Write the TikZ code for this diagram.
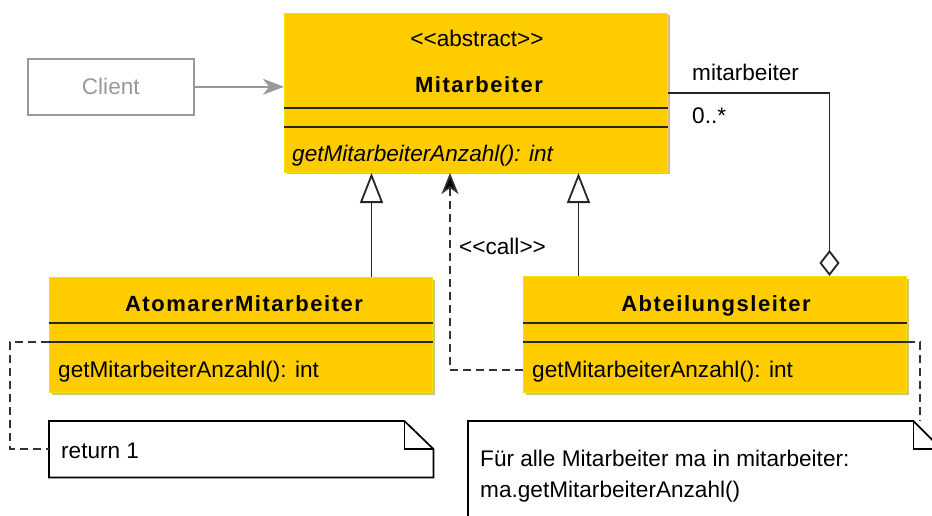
\documentclass[tikz,border=0pt]{standalone}
\usepackage{fontspec}
\setmainfont{Liberation Sans}
\newfontfamily\titlefont[LetterSpace=7]{Liberation Sans Bold}
\usetikzlibrary{arrows.meta,shadows}
\definecolor{umlfill}{HTML}{FFCC00}
\definecolor{umledge}{HTML}{F5E000}
\definecolor{umlshadow}{HTML}{BFA650}
\definecolor{clientgray}{HTML}{999999}
\definecolor{dashgray}{HTML}{333333}
\newcommand\umlfont{\fontsize{22.6}{26}\selectfont}
\begin{document}
\begin{tikzpicture}[x=1pt,y=-1pt,
  classbox/.style={draw=umledge, fill=umlfill, line width=1pt, inner sep=0pt,
    anchor=north west, drop shadow={shadow xshift=2pt, shadow yshift=-2pt,
    fill=umlshadow, opacity=0.7}},
  notebox/.style={inner sep=0pt, anchor=north west},
  notedraw/.style={draw=black, line width=1.7pt, fill=white, line join=miter},
  divider/.style={draw=black!85, line width=1.6pt},
  lbl/.style={inner sep=0pt, font=\umlfont},
  title/.style={inner sep=0pt, font=\titlefont\fontsize{22}{26}\selectfont},
  conn/.style={draw=black!85, line width=1.8pt},
  gen/.style={conn, -{Triangle[open, length=30pt, width=23pt, fill=white]}},
  agg/.style={conn, -{Diamond[open, length=26pt, width=20pt, fill=white]}},
  calldash/.style={draw=dashgray, line width=1.7pt, dash pattern=on 8pt off 5pt},
  callarrow/.style={calldash, -{Stealth[length=21pt, width=17pt, inset=6pt, fill=black]}},
]
\useasboundingbox (0,0) rectangle (932,516);

% ---- class boxes ----
\node[classbox, minimum width=383pt, minimum height=159pt] (mit) at (284,13) {};
\node[classbox, minimum width=383pt, minimum height=115pt] (atom) at (49,277) {};
\node[classbox, minimum width=383pt, minimum height=116pt] (abt) at (523,276) {};

% compartments
\draw[divider] (mit.west |- 0,108) -- (mit.east |- 0,108);
\draw[divider] (mit.west |- 0,127) -- (mit.east |- 0,127);
\draw[divider] (atom.west |- 0,323) -- (atom.east |- 0,323);
\draw[divider] (atom.west |- 0,342) -- (atom.east |- 0,342);
\draw[divider] (abt.west |- 0,323) -- (abt.east |- 0,323);
\draw[divider] (abt.west |- 0,342) -- (abt.east |- 0,342);

% class texts
\node[lbl, anchor=base] (mitstereo) at (477,47) {<{}<abstract>{}>};
\node[title, anchor=base] (mitname) at (479,93) {Mitarbeiter};
\node[lbl, anchor=base west, font=\umlfont\itshape] (mitop) at (292,162) {getMitarbeiterAnzahl(): int};
\node[title, anchor=base] (atomname) at (244,311) {AtomarerMitarbeiter};
\node[lbl, anchor=base west] (atomop) at (58,377) {getMitarbeiterAnzahl(): int};
\node[title, anchor=base] (abtname) at (716,311) {Abteilungsleiter};
\node[lbl, anchor=base west] (abtop) at (532,377) {getMitarbeiterAnzahl(): int};

% ---- client ----
\node[draw=clientgray, line width=1.6pt, text=clientgray, font=\umlfont,
      minimum width=166pt, minimum height=56pt, anchor=north west] (client) at (27,58) {Client};
\draw[draw=clientgray, line width=1.8pt,
      -{Stealth[length=21pt, width=16pt, inset=6pt, fill=clientgray]}]
  (client.east) -- (client.east -| mit.west);

% ---- notes ----
\node[notebox, minimum width=384pt, minimum height=56pt] (note1) at (49,421) {};
\draw[notedraw] (note1.north west) -- ([xshift=-29pt]note1.north east)
  -- ([yshift=-28pt]note1.north east) -- (note1.south east) -- (note1.south west) -- cycle;
\draw[notedraw, fill=none] ([xshift=-29pt]note1.north east) -- ([xshift=-29pt,yshift=-28pt]note1.north east)
  -- ([yshift=-28pt]note1.north east);
\node[lbl, anchor=base west] (note1text) at (61,458) {return 1};

\node[notebox, minimum width=473pt, minimum height=130pt] (note2) at (468,421) {};
\draw[notedraw] (note2.north west) -- ([xshift=-28pt]note2.north east)
  -- ([yshift=-28pt]note2.north east) -- (note2.south east) -- (note2.south west) -- cycle;
\draw[notedraw, fill=none] ([xshift=-28pt]note2.north east) -- ([xshift=-28pt,yshift=-28pt]note2.north east)
  -- ([yshift=-28pt]note2.north east);
\node[lbl, anchor=base west] (note2line1) at (480,466) {Für alle Mitarbeiter ma in mitarbeiter:};
\node[lbl, anchor=base west] (note2line2) at (480,497) {ma.getMitarbeiterAnzahl()};

% note anchors
\coordinate (atomanchor) at (atom.west |- 0,342);
\coordinate (abtanchor) at (abt.east |- 0,342);
\draw[calldash] (atomanchor) -- (10,342) |- (note1.west |- 0,449);
\draw[calldash] (abtanchor) -| (note2.north east -| 920,0);

% ---- generalizations ----
\draw[gen] ([xshift=130.5pt]atom.north) -- ([xshift=130.5pt]atom.north |- mit.south);
\draw[gen] ([xshift=-136.5pt]abt.north) -- ([xshift=-136.5pt]abt.north |- mit.south);

% ---- call dependency ----
\coordinate (callfrom) at (abt.west |- 0,370);
\draw[callarrow] (callfrom) -| (450,0 |- mit.south);
\node[lbl, anchor=base west] (calllbl) at (459,254) {<{}<call>{}>};

% ---- aggregation ----
\draw[agg] (mit.east) -| ([xshift=114.5pt]abt.north);
\node[lbl, anchor=base west] (rolelbl) at (692,81) {mitarbeiter};
\node[lbl, anchor=base west] (multlbl) at (692,124) {0..*};
\end{tikzpicture}
\end{document}
